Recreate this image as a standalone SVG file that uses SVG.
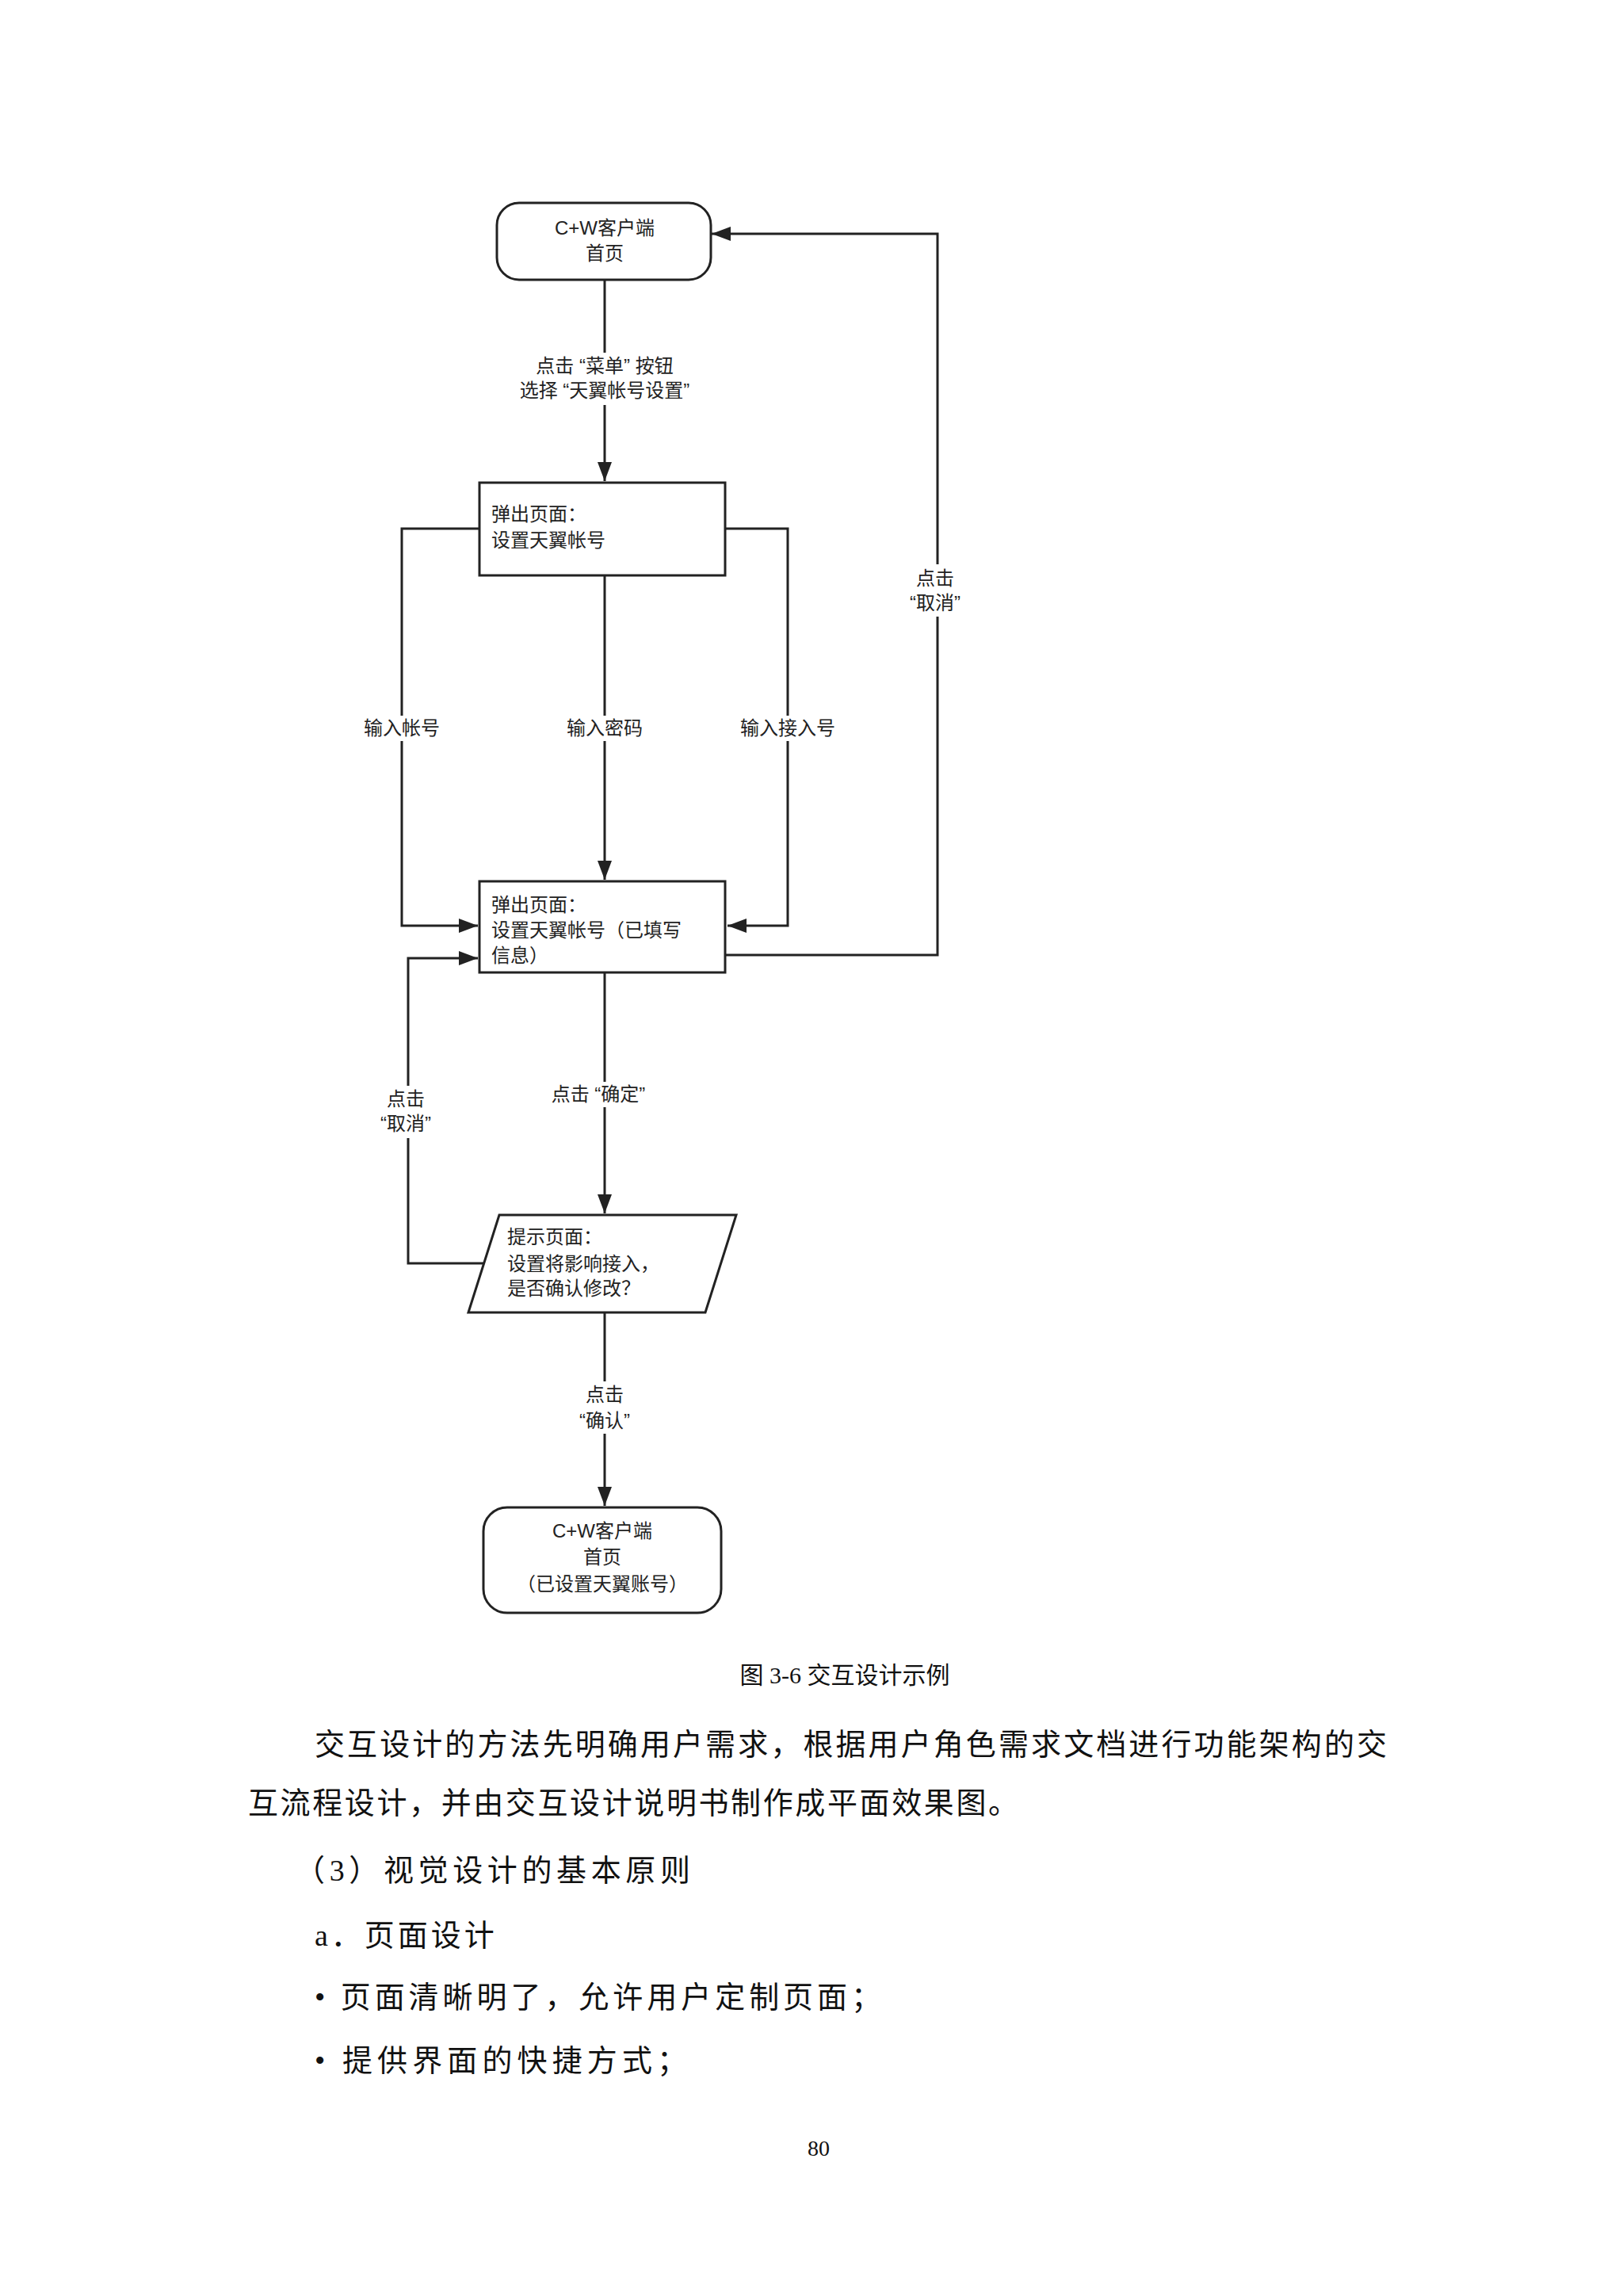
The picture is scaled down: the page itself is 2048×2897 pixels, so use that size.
<svg xmlns="http://www.w3.org/2000/svg" width="2048" height="2897" viewBox="0 0 2048 2897">
<style>
.n{fill:#fff;stroke:#222;stroke-width:3}
.c{fill:none;stroke:#222;stroke-width:3}
.t{font-family:"Liberation Sans","Noto Sans CJK SC",sans-serif;font-size:24px;fill:#222}
.m{text-anchor:middle}
.lb{fill:#fff}
.b{font-family:"Liberation Serif","Noto Sans CJK SC",serif;font-size:38px;fill:#111}
</style>
<defs>
<marker id="ah" viewBox="0 0 24 18" refX="24" refY="9" markerWidth="24" markerHeight="18" orient="auto" markerUnits="userSpaceOnUse"><path d="M0,0L24,9L0,18z" fill="#222"/></marker></defs>
<g id="connectors">
<path class="c" d="M763,353V607" marker-end="url(#ah)"/>
<path class="c" d="M605,667H507V1168H603" marker-end="url(#ah)"/>
<path class="c" d="M763,726V1110" marker-end="url(#ah)"/>
<path class="c" d="M915,667H994V1168H918" marker-end="url(#ah)"/>
<path class="c" d="M915,1205H1183V295H898" marker-end="url(#ah)"/>
<path class="c" d="M763,1227V1531" marker-end="url(#ah)"/>
<path class="c" d="M612,1594H515V1209H603" marker-end="url(#ah)"/>
<path class="c" d="M763,1656V1900" marker-end="url(#ah)"/>
<rect class="lb" x="640" y="445" width="246" height="66"/>
<text class="t m" x="763" y="470">点击 “菜单” 按钮</text>
<text class="t m" x="763" y="501">选择 “天翼帐号设置”</text>
<rect class="lb" x="1130" y="712" width="106" height="66"/>
<text class="t m" x="1180" y="738">点击</text>
<text class="t m" x="1180" y="769">“取消”</text>
<rect class="lb" x="450" y="903" width="114" height="32"/>
<text class="t m" x="507" y="927">输入帐号</text>
<rect class="lb" x="706" y="903" width="114" height="32"/>
<text class="t m" x="763" y="927">输入密码</text>
<rect class="lb" x="924" y="903" width="140" height="32"/>
<text class="t m" x="994" y="927">输入接入号</text>
<rect class="lb" x="460" y="1370" width="106" height="66"/>
<text class="t m" x="512" y="1395">点击</text>
<text class="t m" x="512" y="1426">“取消”</text>
<rect class="lb" x="670" y="1365" width="170" height="32"/>
<text class="t m" x="755" y="1389">点击 “确定”</text>
<rect class="lb" x="713" y="1743" width="100" height="66"/>
<text class="t m" x="763" y="1768">点击</text>
<text class="t m" x="763" y="1801">“确认”</text>
</g>
<g id="start"><rect class="n" x="627" y="256" width="270" height="97" rx="28"/>
<text class="t m" x="763" y="296">C+W客户端</text><text class="t m" x="763" y="328">首页</text></g>
<g id="popup1"><rect class="n" x="605" y="609" width="310" height="117"/>
<text class="t" x="620" y="657">弹出页面：</text><text class="t" x="620" y="690">设置天翼帐号</text></g>
<g id="popup2"><rect class="n" x="605" y="1112" width="310" height="115"/>
<text class="t" x="620" y="1150">弹出页面：</text><text class="t" x="620" y="1182">设置天翼帐号（已填写</text><text class="t" x="620" y="1214">信息）</text></g>
<g id="prompt"><path class="n" d="M630,1533H929L890,1656H591Z"/>
<text class="t" x="640" y="1569">提示页面：</text><text class="t" x="640" y="1603">设置将影响接入，</text><text class="t" x="640" y="1634">是否确认修改？</text></g>
<g id="end"><rect class="n" x="610" y="1902" width="300" height="133" rx="30"/>
<text class="t m" x="760" y="1940">C+W客户端</text><text class="t m" x="760" y="1973">首页</text><text class="t m" x="760" y="2007">（已设置天翼账号）</text></g>
<text class="b" x="1066" y="2124" text-anchor="middle" style="font-size:30px">图 3-6 交互设计示例</text>
<text class="b" x="397" y="2214" textLength="1353" lengthAdjust="spacing">交互设计的方法先明确用户需求，根据用户角色需求文档进行功能架构的交</text>
<text class="b" x="313" y="2288" textLength="972" lengthAdjust="spacing">互流程设计，并由交互设计说明书制作成平面效果图。</text>
<text class="b" x="372" y="2373" textLength="499" lengthAdjust="spacing">（3）视觉设计的基本原则</text>
<text class="b" x="397" y="2455" letter-spacing="4">a．页面设计</text>
<text class="b" x="397" y="2533" textLength="715" lengthAdjust="spacing">• 页面清晰明了，允许用户定制页面；</text>
<text class="b" x="397" y="2613" textLength="470" lengthAdjust="spacing">• 提供界面的快捷方式；</text>
<text class="b" x="1033" y="2720" text-anchor="middle" style="font-size:28px">80</text>
</svg>
